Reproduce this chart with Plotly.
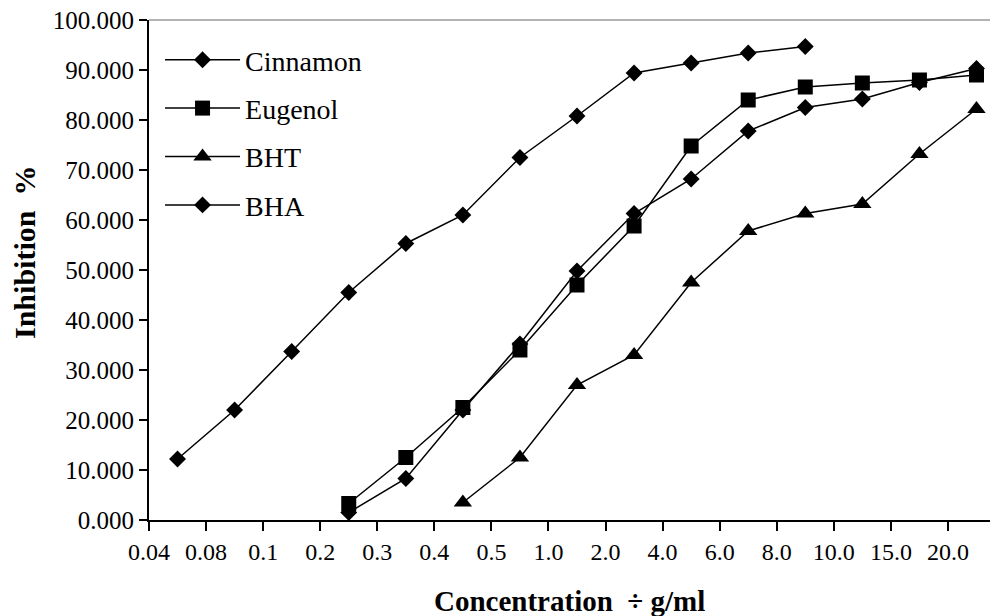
import plotly.graph_objects as go

# Category tick labels (concentration)
tick_labels = ["0.04", "0.08", "0.1", "0.2", "0.3", "0.4", "0.5", "1.0",
               "2.0", "4.0", "6.0", "8.0", "10.0", "15.0", "20.0"]

# Series values (Inhibition %), each series starts at a category index
cinnamon_start = 0
cinnamon = [12.2, 22.0, 33.7, 45.5, 55.3, 61.0, 72.5, 80.8, 89.4, 91.4, 93.4, 94.7]

eugenol_start = 3
eugenol = [3.3, 12.5, 22.5, 34.0, 47.0, 58.8, 74.8, 84.0, 86.6, 87.4, 88.0, 89.0]

bht_start = 5
bht = [3.5, 12.5, 27.0, 33.0, 47.5, 57.8, 61.3, 63.2, 73.2, 82.2]

bha_start = 3
bha = [1.5, 8.3, 22.0, 35.2, 49.8, 61.3, 68.2, 77.8, 82.5, 84.2, 87.5, 90.3]

FONT = "Liberation Serif"


def xs(start, vals):
    # points sit at category centres (between boundary ticks)
    return [start + i + 0.5 for i in range(len(vals))]


series = [
    ("Cinnamon", cinnamon_start, cinnamon, "diamond", 13),
    ("Eugenol", eugenol_start, eugenol, "square", 15),
    ("BHT", bht_start, bht, "triangle-up", 16),
    ("BHA", bha_start, bha, "diamond", 13),
]

fig = go.Figure()
for name, start, vals, sym, size in series:
    fig.add_trace(go.Scatter(
        x=xs(start, vals), y=vals, name=name, mode="lines+markers",
        legendgroup=name,
        line=dict(color="black", width=1.5),
        marker=dict(symbol=sym, size=size, color="black"),
    ))

n_cat = len(tick_labels)
# page body has an 8px margin, so the figure is shrunk by 8px and margins adjusted
fig.update_layout(
    width=990, height=608,
    margin=dict(l=141, r=0, t=12, b=96),
    paper_bgcolor="white", plot_bgcolor="white",
    font=dict(family=FONT, color="black", size=24),
    showlegend=True,
    legend=dict(
        x=0.013, y=0.97, xanchor="left", yanchor="top",
        bgcolor="rgba(0,0,0,0)", borderwidth=0,
        font=dict(family=FONT, size=28, color="black"),
        tracegroupgap=9, itemwidth=75,
    ),
    xaxis=dict(
        range=[0, 14.877], tickmode="array",
        tickvals=list(range(n_cat)), ticktext=tick_labels,
        showline=True, linecolor="black", linewidth=2,
        ticks="outside", ticklen=9, tickwidth=2, tickcolor="black",
        showgrid=False, zeroline=False,
        tickfont=dict(family=FONT, size=24),
        ticklabeloverflow="allow",
    ),
    yaxis=dict(
        range=[0, 100], dtick=10, tickformat=".3f",
        showline=True, linecolor="black", linewidth=2,
        ticks="outside", ticklen=8, tickwidth=2, tickcolor="black",
        showgrid=False, zeroline=False,
        tickfont=dict(family=FONT, size=25),
        ticklabeloverflow="allow",
    ),
    shapes=[dict(type="line", xref="paper", yref="paper", x0=0, x1=1, y0=1, y1=1,
                 line=dict(color="#9a9a9a", width=1.5))],
    annotations=[
        dict(text="<b>Concentration  ÷ g/ml</b>", xref="paper", yref="paper",
             x=(569 - 149) / 849, y=-(601 - 520) / 500, xanchor="center", yanchor="middle",
             showarrow=False, font=dict(family=FONT, size=29, color="black")),
        dict(text="<b>Inhibition  %</b>", xref="paper", yref="paper",
             x=-(149 - 25) / 849, y=(520 - 252) / 500, xanchor="center", yanchor="middle",
             textangle=-90, showarrow=False, font=dict(family=FONT, size=30, color="black")),
    ],
)

fig.write_html("out.html")
